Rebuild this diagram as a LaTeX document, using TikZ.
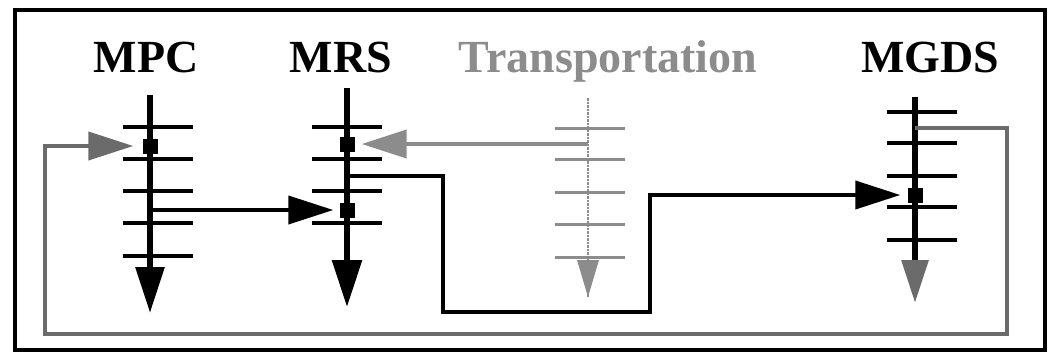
\documentclass[tikz,border=0pt]{standalone}
\usepackage{fontspec}
\setmainfont{Liberation Serif}
\usetikzlibrary{arrows.meta}
\definecolor{screen}{gray}{0.42}
\definecolor{lightscreen}{gray}{0.55}

\begin{document}
\begin{tikzpicture}[
    x=1pt, y=-1pt,
    lifename/.style={font=\fontsize{46}{48}\selectfont\bfseries, anchor=base, inner sep=0pt},
    lifeline/.style={line width=6pt, -{Triangle[length=46pt, width=28pt]}},
    rung/.style={line width=4pt},
    port/.style={fill=black, minimum size=15pt, inner sep=0pt},
    msg/.style={line width=4pt, -{Triangle[length=45pt, width=28pt]}}
  ]
    \useasboundingbox (0,0) rectangle (1051,354);
    \draw[line width=3.5pt] (15,10) rectangle (1045,350);

    % MPC
    \node[lifename] (mpc) at (146,72) {MPC};
    \coordinate (mpctop) at (150,95);
    \coordinate (mpcend) at (150,313);
    \foreach \y in {127,159,191,223,256}
      \draw[rung] (123,\y) -- (193,\y);
    \draw[lifeline] (mpctop) -- (mpcend);
    \node[port] (mpcport) at (150,146) {};
    \coordinate (mpcout) at (150,210);

    % MRS
    \node[lifename] (mrs) at (341,72) {MRS};
    \coordinate (mrstop) at (347,88);
    \coordinate (mrsend) at (347,307);
    \foreach \y in {127,159,191,223}
      \draw[rung] (312,\y) -- (382,\y);
    \draw[lifeline, -{Triangle[length=47pt, width=29pt]}] (mrstop) -- (mrsend);
    \node[port] (mrsporta) at (347,144) {};
    \node[port] (mrsportb) at (347,210) {};
    \coordinate (mrsout) at (347,176);

    % Transportation
    \node[lifename, lightscreen] (trans) at (608,72) {Transportation};
    \coordinate (transtop) at (588,98);
    \coordinate (transend) at (588,297);
    \foreach \y in {128,159,192,224,257}
      \draw[rung, lightscreen, line width=3pt] (555,\y) -- (625,\y);
    \draw[lightscreen, line width=2.5pt, densely dotted] (transtop) -- (transend);
    \fill[lightscreen] (577,260) -- (599,260) -- (transend) -- cycle;
    \coordinate (transout) at (588,144);

    % MGDS
    \node[lifename] (mgds) at (930,72) {MGDS};
    \coordinate (mgdstop) at (915,97);
    \coordinate (mgdsend) at (915,303);
    \foreach \y in {112,143,176,207,240}
      \draw[rung] (887,\y) -- (957,\y);
    \draw[lifeline, -{Triangle[length=43pt, width=26pt, color=screen]}] (mgdstop) -- (mgdsend);
    \node[port] (mgdsport) at (915,195) {};
    \coordinate (mgdsout) at (915,128);

    % messages
    \draw[msg] (mpcout) -- (mrsportb.west) [shorten >=6pt];
    \draw[msg, lightscreen] (transout) -- (mrsporta.east) [shorten >=7pt];
    \draw[msg] (mrsout) -- (443,176) -- (443,312) -- (650,312) -- (650,195)
      -- (mgdsport.west) [shorten >=7pt];
    \draw[msg, screen] (mgdsout) -- (1007,128) -- (1007,334) -- (45,334) -- (45,146)
      -- (mpcport.west) [shorten >=9pt];
  \end{tikzpicture}
\end{document}
